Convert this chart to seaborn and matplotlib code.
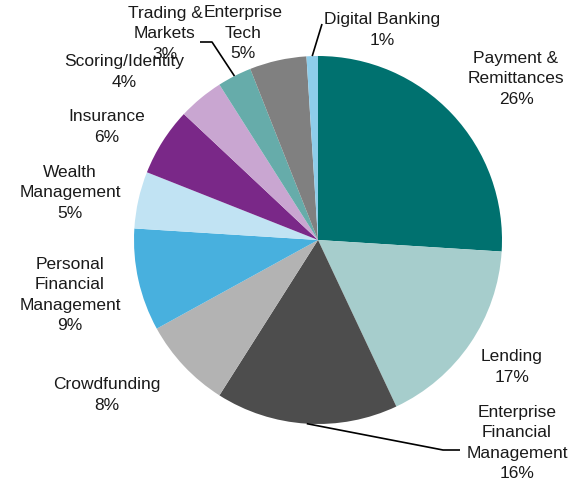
import matplotlib
matplotlib.use("Agg")
import matplotlib.pyplot as plt
import seaborn as sns
import numpy as np

sns.set_theme(style="white")
plt.rcParams['font.family'] = ['Liberation Sans', 'DejaVu Sans']

categories = ["Payment &\nRemittances", "Lending", "Enterprise\nFinancial\nManagement",
              "Crowdfunding", "Personal\nFinancial\nManagement", "Wealth\nManagement",
              "Insurance", "Scoring/Identity", "Trading &\nMarkets", "Enterprise\nTech",
              "Digital Banking"]
values = [26, 17, 16, 8, 9, 5, 6, 4, 3, 5, 1]
colors = ["#00716F", "#A6CDCC", "#4D4D4D", "#B3B3B3", "#48B0DE", "#C1E3F3",
          "#7A2888", "#C9A6D1", "#66ACAA", "#808080", "#8ECDEA"]

W, H = 574, 481
CX, CY, R = 318, 241, 184

def px(x, y):
    return ((x - CX) / R, (CY - y) / R)

fig = plt.figure(figsize=(W / 100, H / 100), dpi=100)
ax = fig.add_axes([0, 0, 1, 1])
wedges, _ = ax.pie(values, colors=colors, startangle=90, counterclock=False,
                   radius=1, wedgeprops=dict(linewidth=0))
ax.set_xlim(-CX / R, (W - CX) / R)
ax.set_ylim(-(H - CY) / R, CY / R)
ax.set_aspect('auto')
ax.axis('off')

# label centres (pixel positions in the reference)
label_pos = [(516, 79), (512, 367), (517, 443), (107, 395), (70, 295), (70, 193),
             (107, 127), (124, 72), (165, 34), (243, 33), (382, 30)]
for cat, v, (lx, ly) in zip(categories, values, label_pos):
    x, y = px(lx, ly)
    ax.text(x, y, f"{cat}\n{v}%", ha='center', va='center', fontsize=12.5,
            color='#1a1a1a', linespacing=1.45)

def anchor(i, frac=1.0, ang=None):
    w = wedges[i]
    a = np.deg2rad(ang if ang is not None else (w.theta1 + w.theta2) / 2)
    return (frac * np.cos(a), frac * np.sin(a))

# leader lines
leaders = {
    2: ([(460, 451), (443, 451)], -93.5),
    8: ([(200, 43), (212, 43)], None),
    10: ([(322, 25)], None),
}
for i, (pts, ang) in leaders.items():
    a = anchor(i, 1.0, ang)
    p = [px(*q) for q in pts]
    xs = [q[0] for q in p] + [a[0]]
    ys = [q[1] for q in p] + [a[1]]
    ax.plot(xs, ys, color='black', linewidth=1.2, solid_capstyle='butt')

fig.savefig("out.png", dpi=100)
